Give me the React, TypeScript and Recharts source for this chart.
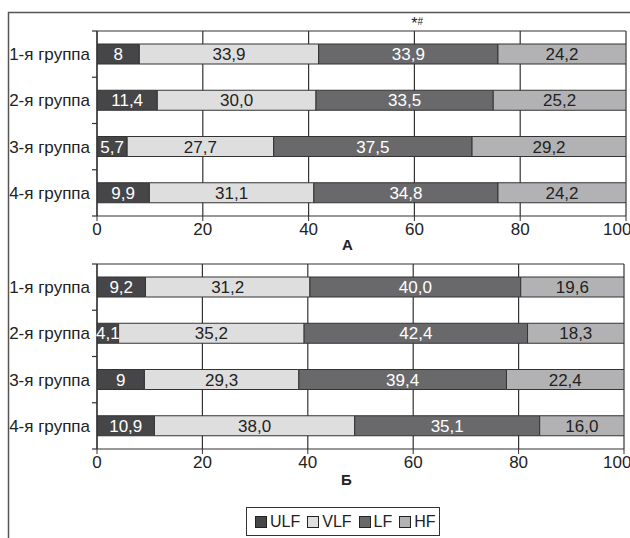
import React from "react";
import {
  BarChart, Bar, XAxis, YAxis, CartesianGrid, LabelList, Legend,
} from "recharts";

/* ── data ── */

const groups = ["1-я группа", "2-я группа", "3-я группа", "4-я группа"];
const series = ["ULF", "VLF", "LF", "HF"];
const xTicks = [0, 20, 40, 60, 80, 100];

// panel А
const ulfA = [8, 11.4, 5.7, 9.9];
const vlfA = [33.9, 30.0, 27.7, 31.1];
const lfA = [33.9, 33.5, 37.5, 34.8];
const hfA = [24.2, 25.2, 29.2, 24.2];
const ulfLabA = ["8", "11,4", "5,7", "9,9"];
const vlfLabA = ["33,9", "30,0", "27,7", "31,1"];
const lfLabA = ["33,9", "33,5", "37,5", "34,8"];
const hfLabA = ["24,2", "25,2", "29,2", "24,2"];
const marksA = ["*#", "", "", ""];

// panel Б
const ulfB = [9.2, 4.1, 9, 10.9];
const vlfB = [31.2, 35.2, 29.3, 38.0];
const lfB = [40.0, 42.4, 39.4, 35.1];
const hfB = [19.6, 18.3, 22.4, 16.0];
const ulfLabB = ["9,2", "4,1", "9", "10,9"];
const vlfLabB = ["31,2", "35,2", "29,3", "38,0"];
const lfLabB = ["40,0", "42,4", "39,4", "35,1"];
const hfLabB = ["19,6", "18,3", "22,4", "16,0"];
const marksB = ["", "", "", ""];

const COLORS = ["#464648", "#dedede", "#69696c", "#b2b2b4"];
const LABEL_COLORS = ["#ffffff", "#222222", "#ffffff", "#222222"];
const FONT = "'Liberation Sans', Arial, sans-serif";
const INK = "#333";

function buildRows(vals: number[][], labs: string[][], marks: string[]) {
  return groups.map((g, i) => ({
    name: g,
    ULF: vals[0][i], VLF: vals[1][i], LF: vals[2][i], HF: vals[3][i],
    ULFl: labs[0][i], VLFl: labs[1][i], LFl: labs[2][i], HFl: labs[3][i],
    mark: marks[i],
  }));
}

const dataA = buildRows([ulfA, vlfA, lfA, hfA], [ulfLabA, vlfLabA, lfLabA, hfLabA], marksA);
const dataB = buildRows([ulfB, vlfB, lfB, hfB], [ulfLabB, vlfLabB, lfLabB, hfLabB], marksB);

const MarkLabel = (props: any) => {
  const { x, y, width, value } = props;
  if (!value) return null;
  return (
    <text x={x + width / 2 + 3} y={y - 15} fill="#222" fontFamily={FONT}>
      <tspan fontSize={16}>{value[0]}</tspan>
      <tspan fontSize={10} dy={-4}>{value.slice(1)}</tspan>
    </text>
  );
};

// category label + tick marks on the band boundaries
const TICK_SIZE = 4;
const TICK_MARGIN = 3;
const GroupTick = (props: any) => {
  const { x, y, payload, index, visibleTicksCount } = props;
  const half = payload.offset ?? 0;
  const ax = x + TICK_SIZE + TICK_MARGIN;
  return (
    <g>
      <line x1={ax - 5} x2={ax} y1={y - half} y2={y - half} stroke={INK} strokeWidth={1.2} />
      {index === visibleTicksCount - 1 && (
        <line x1={ax - 5} x2={ax} y1={y + half} y2={y + half} stroke={INK} strokeWidth={1.2} />
      )}
      <text x={x} y={y} dy="0.36em" textAnchor="end" fill="#222" fontSize={17} fontFamily={FONT}>
        {payload.value}
      </text>
    </g>
  );
};

const LegendBox = () => (
  <div
    style={{
      boxSizing: "border-box", width: 194, height: 29, border: "1.5px solid #333",
      display: "flex", alignItems: "center", paddingLeft: 8, gap: 7,
      fontFamily: FONT, fontSize: 16, color: "#222", background: "#fff",
    }}
  >
    {series.map((s, i) => (
      <span key={s} style={{ display: "flex", alignItems: "center", gap: 3 }}>
        <span style={{ width: 10, height: 10, background: COLORS[i], border: "1px solid #222", display: "inline-block" }} />
        {s}
      </span>
    ))}
  </div>
);

const Title = ({ text, shift }: { text: string; shift: number }) => (props: any) => {
  const vb = props.viewBox;
  return (
    <text x={vb.x + vb.width / 2 - 14} y={vb.y + vb.height - shift} textAnchor="middle"
      fill="#222" fontSize={15} fontWeight="bold" fontFamily={FONT}>
      {text}
    </text>
  );
};

function Panel({ data, title, height, margin, xHeight, titleOffset, withLegend }: any) {
  return (
    <BarChart width={630} height={height} data={data} layout="vertical" margin={margin} barSize={20}
      style={{ overflow: "visible" }}>
      <CartesianGrid horizontal={false} stroke={INK} strokeWidth={1.2} />
      <XAxis
        type="number" domain={[0, 100]} ticks={xTicks} allowDataOverflow height={xHeight}
        tickSize={5} tickMargin={2} stroke={INK} axisLine={{ stroke: INK, strokeWidth: 1.2 }}
        tick={{ fill: "#222", fontSize: 17, fontFamily: FONT }}
        label={{ content: Title({ text: title, shift: titleOffset }) }}
      />
      <XAxis
        xAxisId="top" orientation="top" type="number" domain={[0, 100]} height={1}
        tick={false} tickLine={false} axisLine={{ stroke: INK, strokeWidth: 1.2 }}
      />
      <YAxis
        type="category" dataKey="name" width={91} tickLine={false} tickSize={TICK_SIZE} tickMargin={TICK_MARGIN}
        axisLine={{ stroke: INK, strokeWidth: 1.2 }} tick={<GroupTick />}
      />
      {withLegend && (
        <Legend verticalAlign="bottom" content={<LegendBox />} wrapperStyle={{ left: 246, width: 194 }} />
      )}
      {series.map((s, i) => (
        <Bar key={s} dataKey={s} stackId="a" fill={COLORS[i]} stroke={INK} strokeWidth={1} isAnimationActive={false}>
          <LabelList dataKey={s + "l"} position="center" fill={LABEL_COLORS[i]} fontSize={17} fontFamily={FONT} />
          {s === "LF" && <LabelList dataKey="mark" content={<MarkLabel />} />}
        </Bar>
      ))}
    </BarChart>
  );
}

export default function App() {
  return (
    <div style={{ position: "absolute", left: 0, top: 0, width: 630, height: 538, overflow: "hidden", background: "#fff" }}>
      <div style={{ position: "absolute", left: 0, top: 0 }}>
        <Panel data={dataA} title="А" height={252} margin={{ top: 30, right: 4, left: 6, bottom: 0 }} xHeight={36} titleOffset={2} />
      </div>
      <div style={{ position: "absolute", left: 0, top: 252 }}>
        <Panel data={dataB} title="Б" height={286} margin={{ top: 11, right: 6, left: 6, bottom: 2 }} xHeight={58} titleOffset={22} withLegend />
      </div>
      <svg width={630} height={538} style={{ position: "absolute", left: 0, top: 0, pointerEvents: "none" }}>
        <polyline points="8.5,538 8.5,12.5 630,12.5" fill="none" stroke="#555" strokeWidth={1.5} />
      </svg>
    </div>
  );
}
